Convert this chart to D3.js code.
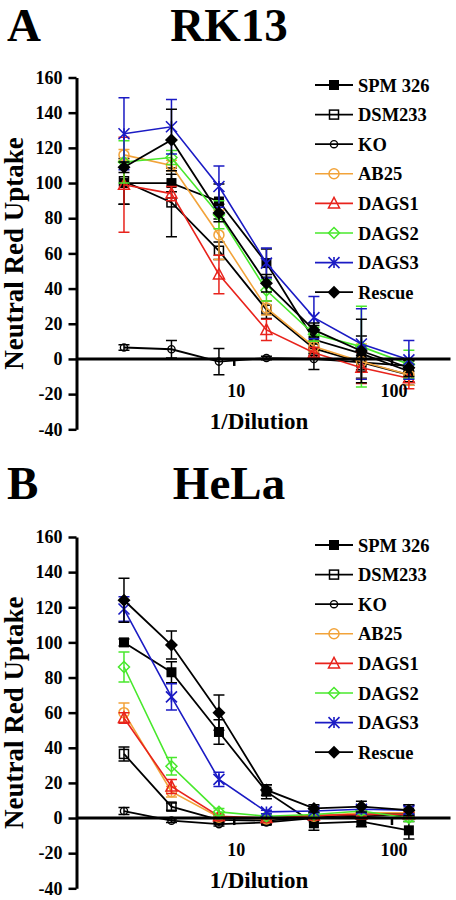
<!DOCTYPE html>
<html><head><meta charset="utf-8">
<script src="https://cdn.jsdelivr.net/npm/d3@7"></script>
<style>body{margin:0;background:#fff}text{font-family:"Liberation Serif","Times New Roman",serif;font-weight:bold;fill:#000}</style>
</head><body>
<script>
// ---- data ----
const dilution = [2, 4, 8, 16, 32, 64, 128];
const seriesNames = ["SPM 326", "DSM233", "KO", "AB25", "DAGS1", "DAGS2", "DAGS3", "Rescue"];
const yTickValues = [-40, -20, 0, 20, 40, 60, 80, 100, 120, 140, 160];
const xTickValues = [10, 100];
const panelTitles = ["RK13", "HeLa"];
const panelLetters = ["A", "B"];

// Panel A: RK13 means and errors
const rkSPM326 = [100, 100, 89.5, 54.5, 11, 3, -7];
const rkSPM326Err = [12, 5, 10, 8, 8, 10, 6];
const rkDSM233 = [101, 89, 61.5, 28, 6, -2, -9];
const rkDSM233Err = [13, 19.5, 5, 5, 4, 9, 6];
const rkKO = [6.5, 5.5, -1.5, 0.5, 0, -2, -4];
const rkKOErr = [1.5, 5, 7.5, 1, 6, 4, 3];
const rkAB25 = [116, 110, 70.5, 29, 7, -1.5, -9];
const rkAB25Err = [3, 3, 14, 4, 3, 10, 6];
const rkDAGS1 = [99, 94, 48, 16.5, 3.5, -5, -11];
const rkDAGS1Err = [27, 4, 11, 6, 3, 9, 6];
const rkDAGS2 = [112, 114.5, 82, 39, 14, 7, -3];
const rkDAGS2Err = [12, 4, 8, 6, 4, 23, 8];
const rkDAGS3 = [128, 132, 98, 54.5, 23.5, 8.5, -0.5];
const rkDAGS3Err = [20.5, 15.5, 11.7, 8.5, 12, 20, 11];
const rkRescue = [109, 124.5, 83, 43, 16.5, 4.5, -5];
const rkRescueErr = [3, 17.5, 5, 5, 4, 18, 5];

// Panel B: HeLa means and errors
const heSPM326 = [100, 83, 49, 15, -3, -2, -7];
const heSPM326Err = [2, 6, 7, 4, 4, 3, 5];
const heDSM233 = [36.5, 6.5, -1, -1.5, 0.5, 2, 3];
const heDSM233Err = [4, 2, 1, 1, 1, 1, 1];
const heKO = [4, -1.5, -3.5, -2.5, 0, 1, 2];
const heKOErr = [2, 1, 1, 1, 1, 1, 1];
const heAB25 = [60, 15, 0.5, -0.5, 1, 3, 3];
const heAB25Err = [5.5, 3, 1, 1, 1, 1, 1];
const heDAGS1 = [57, 18, 1, 0, 1.5, 2, 2];
const heDAGS1Err = [3, 4, 1, 1, 1, 1, 1];
const heDAGS2 = [86, 29.5, 3.5, 1, 2, 4, 0];
const heDAGS2Err = [8.5, 5, 2, 1, 1, 2, 2];
const heDAGS3 = [119, 69, 22, 3.5, 4, 5, 4.5];
const heDAGS3Err = [7, 7.5, 4, 1, 1, 2, 2];
const heRescue = [124, 98.5, 60, 16, 5.5, 6.5, 4.5];
const heRescueErr = [12.5, 8, 10, 3, 2, 3, 3];

// ---- styles ----
const seriesColors = ["#000", "#000", "#000", "#F2A33A", "#E8231C", "#48E82C", "#1B1BC4", "#000"];
const seriesMarkers = ["squareFilled", "squareOpen", "circleSmall", "circleOpen", "triangle", "diamondOpen", "asterisk", "diamondFilled"];

const panels = [
  { means: [rkSPM326, rkDSM233, rkKO, rkAB25, rkDAGS1, rkDAGS2, rkDAGS3, rkRescue],
    errs: [rkSPM326Err, rkDSM233Err, rkKOErr, rkAB25Err, rkDAGS1Err, rkDAGS2Err, rkDAGS3Err, rkRescueErr],
    top: 77.5, bottom: 429.3, titleY: 41, legendY: 85 },
  { means: [heSPM326, heDSM233, heKO, heAB25, heDAGS1, heDAGS2, heDAGS3, heRescue],
    errs: [heSPM326Err, heDSM233Err, heKOErr, heAB25Err, heDAGS1Err, heDAGS2Err, heDAGS3Err, heRescueErr],
    top: 537, bottom: 888.3, titleY: 499, legendY: 545 }
];

const svg = d3.select("body").append("svg").attr("width", 456).attr("height", 900);
const x = d3.scaleLog().domain([1, 235]).range([76.5, 450.5]);

function marker(g, type, color, cx, cy) {
  const sw = 1.5;
  if (type === "squareFilled") {
    g.append("rect").attr("x", cx - 5).attr("y", cy - 5).attr("width", 10).attr("height", 10).attr("fill", color);
  } else if (type === "squareOpen") {
    g.append("rect").attr("x", cx - 4.5).attr("y", cy - 4.5).attr("width", 9).attr("height", 9)
      .attr("fill", "none").attr("stroke", color).attr("stroke-width", sw);
  } else if (type === "circleSmall") {
    g.append("circle").attr("cx", cx).attr("cy", cy).attr("r", 3.6).attr("fill", "none").attr("stroke", color).attr("stroke-width", 1.4);
  } else if (type === "circleOpen") {
    g.append("circle").attr("cx", cx).attr("cy", cy).attr("r", 5).attr("fill", "none").attr("stroke", color).attr("stroke-width", sw);
  } else if (type === "triangle") {
    g.append("path").attr("d", `M${cx},${cy - 6}L${cx + 5.5},${cy + 4.5}L${cx - 5.5},${cy + 4.5}Z`)
      .attr("fill", "none").attr("stroke", color).attr("stroke-width", sw);
  } else if (type === "diamondOpen") {
    g.append("path").attr("d", `M${cx},${cy - 5.5}L${cx + 5.5},${cy}L${cx},${cy + 5.5}L${cx - 5.5},${cy}Z`)
      .attr("fill", "none").attr("stroke", color).attr("stroke-width", sw);
  } else if (type === "asterisk") {
    const s = 5.5;
    g.append("path").attr("d", `M${cx - s},${cy - s}L${cx + s},${cy + s}M${cx + s},${cy - s}L${cx - s},${cy + s}M${cx},${cy - s}L${cx},${cy + s}`)
      .attr("fill", "none").attr("stroke", color).attr("stroke-width", 1.6);
  } else if (type === "diamondFilled") {
    g.append("path").attr("d", `M${cx},${cy - 6.5}L${cx + 6.5},${cy}L${cx},${cy + 6.5}L${cx - 6.5},${cy}Z`).attr("fill", color);
  }
}

panels.forEach((p, pi) => {
  const y = d3.scaleLinear().domain([-40, 160]).range([p.bottom, p.top]);
  const g = svg.append("g");

  // titles
  g.append("text").attr("x", 7).attr("y", p.titleY).attr("font-size", 47).text(panelLetters[pi]);
  g.append("text").attr("x", 229).attr("y", p.titleY).attr("font-size", 47).attr("text-anchor", "middle").text(panelTitles[pi]);

  // y axis
  const yAxis = g.append("g").attr("transform", `translate(${x(1)},0)`)
    .call(d3.axisLeft(y).tickValues(yTickValues).tickSize(8).tickSizeOuter(0).tickPadding(6).tickFormat(d3.format("d")));
  yAxis.select(".domain").attr("stroke", "#000").attr("stroke-width", 3);
  yAxis.selectAll(".tick line").attr("stroke", "#000").attr("stroke-width", 2.5);
  yAxis.selectAll(".tick text").attr("font-size", 18).attr("font-family", "Liberation Serif, Times New Roman, serif")
    .attr("font-weight", "bold").attr("fill", "#000").text(d => d < 0 ? "-" + Math.abs(d) : d);

  // y title
  g.append("text").attr("transform", `translate(${23},${(y(60))}) rotate(-90)`)
    .attr("text-anchor", "middle").attr("font-size", 27).text("Neutral Red Uptake");

  // series
  seriesNames.forEach((name, si) => {
    const col = seriesColors[si];
    const means = p.means[si], errs = p.errs[si];
    const sg = g.append("g");
    const lw = col === "#000" ? 1.8 : 1.6;
    sg.append("path").datum(dilution.map((d, i) => [d, means[i]]))
      .attr("d", d3.line().x(d => x(d[0])).y(d => y(d[1])))
      .attr("fill", "none").attr("stroke", col).attr("stroke-width", lw);
    dilution.forEach((d, i) => {
      const cx = x(d), y1 = y(means[i] + errs[i]), y2 = y(means[i] - errs[i]);
      sg.append("path").attr("d", `M${cx},${y1}L${cx},${y2}M${cx - 5.5},${y1}L${cx + 5.5},${y1}M${cx - 5.5},${y2}L${cx + 5.5},${y2}`)
        .attr("stroke", col).attr("stroke-width", 1.5).attr("fill", "none");
    });
    dilution.forEach((d, i) => marker(sg, seriesMarkers[si], col, x(d), y(means[i])));

    // legend
    const ly = p.legendY + si * 29.6;
    g.append("line").attr("x1", 315).attr("x2", 353).attr("y1", ly).attr("y2", ly).attr("stroke", col).attr("stroke-width", lw);
    marker(g, seriesMarkers[si], col, 334, ly);
    g.append("text").attr("x", 358).attr("y", ly + 6.5).attr("font-size", 18.5).text(name);
  });

  // x axis at zero
  const y0 = y(0);
  g.append("line").attr("x1", x(1)).attr("x2", x(235)).attr("y1", y0).attr("y2", y0).attr("stroke", "#000").attr("stroke-width", 3);
  xTickValues.forEach(t => {
    g.append("line").attr("x1", x(t)).attr("x2", x(t)).attr("y1", y0).attr("y2", y0 + 7).attr("stroke", "#000").attr("stroke-width", 2.5);
    g.append("text").attr("x", x(t) + 2).attr("y", y0 + 38).attr("text-anchor", "middle").attr("font-size", 18).text(t);
  });
  g.append("text").attr("x", 259).attr("y", y0 + 70).attr("text-anchor", "middle").attr("font-size", 23).text("1/Dilution");
});
</script>
</body></html>
